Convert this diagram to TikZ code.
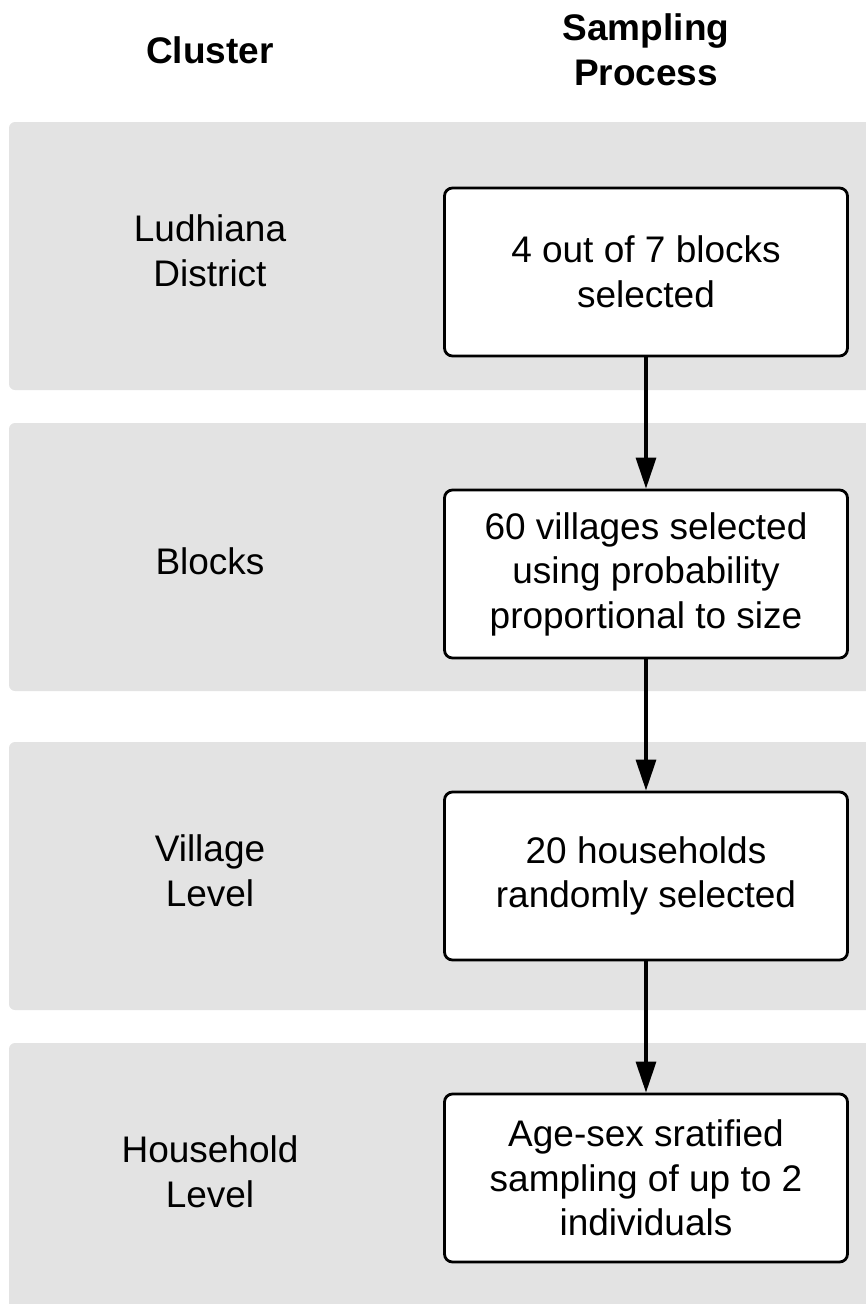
\documentclass[tikz,border=0pt]{standalone}
\usepackage{fontspec}
\setmainfont{Liberation Sans}
\usetikzlibrary{arrows.meta}
\definecolor{band}{HTML}{E3E3E3}
\tikzset{
  bandbox/.style={fill=band, draw=none, rounded corners=6pt},
  procbox/.style={draw=black, fill=white, line width=2.8pt, rounded corners=8pt, minimum width=403pt, minimum height=168pt, align=center, inner sep=0pt, font=\fontsize{37}{44.5}\selectfont},
  lbl/.style={align=center, font=\fontsize{37}{44.5}\selectfont},
  hdr/.style={align=center, font=\fontsize{37}{44.5}\selectfont\bfseries},
  flow/.style={line width=3.2pt, -{Triangle[length=31pt,width=20pt]}}
}
\begin{document}
\begin{tikzpicture}[x=1pt,y=-1pt]
\useasboundingbox (0,0) rectangle (865,1304);
\fill[bandbox] (9,122) rectangle (885,390);
\fill[bandbox] (9,423) rectangle (885,691);
\fill[bandbox] (9,742) rectangle (885,1010);
\fill[bandbox] (9,1043) rectangle (885,1330);
\node[hdr] (h1) at (210,50) {Cluster};
\node[hdr] (h2) at (646,50) {Sampling\\Process};
\node[lbl] (l1) at (210,251) {Ludhiana\\District};
\node[lbl] (l2) at (210,561) {Blocks};
\node[lbl] (l3) at (210,871) {Village\\Level};
\node[lbl] (l4) at (210,1172) {Household\\Level};
\node[procbox] (b1) at (646,272) {4 out of 7 blocks\\selected};
\node[procbox] (b2) at (646,574) {60 villages selected\\using probability\\proportional to size};
\node[procbox] (b3) at (646,876) {20 households\\randomly selected};
\node[procbox] (b4) at (646,1178) {Age-sex sratified\\sampling of up to 2\\individuals};
\draw[flow] (b1) -- (b2);
\draw[flow] (b2) -- (b3);
\draw[flow] (b3) -- (b4);
\end{tikzpicture}
\end{document}
